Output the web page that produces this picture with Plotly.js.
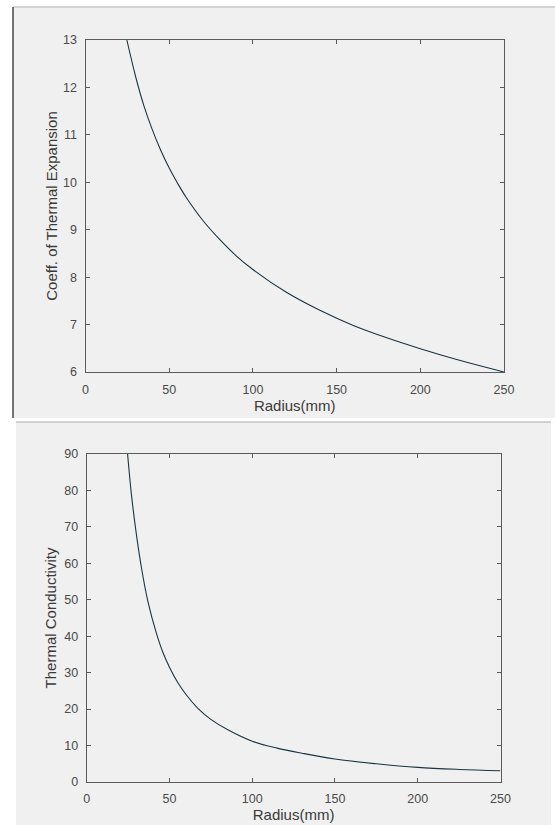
<!DOCTYPE html>
<html>
<head>
<meta charset="utf-8">
<script src="https://cdn.plot.ly/plotly-3.0.1.min.js"></script>
<style>
html,body{margin:0;padding:0;background:#ffffff;}
#chart{width:555px;height:825px;}
</style>
</head>
<body>
<div id="chart"></div>
<script>
// Top chart: Coefficient of thermal expansion vs radius
const radiusCTE = [24.7, 30, 35, 40, 45, 50, 55, 60, 70, 80, 90, 100, 120, 140, 160, 180, 200, 225, 250];
const valuesCTE = [13.0, 12.22, 11.6, 11.1, 10.67, 10.3, 9.98, 9.69, 9.2, 8.8, 8.45, 8.16, 7.68, 7.3, 6.98, 6.72, 6.49, 6.23, 6.0];

// Bottom chart: Thermal conductivity vs radius
const radiusK = [24.7, 27, 30, 33, 37, 42, 46, 50, 55, 60, 67, 75, 85, 100, 115, 130, 150, 175, 200, 225, 250];
const valuesK = [90, 79, 68, 59, 49.5, 41, 35.6, 31.5, 27.3, 24, 20.3, 17.2, 14.4, 11.2, 9.3, 7.9, 6.3, 5.0, 4.0, 3.45, 3.1];

const xTicks = [0, 50, 100, 150, 200, 250];
const yTicksCTE = [6, 7, 8, 9, 10, 11, 12, 13];
const yTicksK = [0, 10, 20, 30, 40, 50, 60, 70, 80, 90];

const W = 555, H = 825;
const px = v => v / W;
const py = v => 1 - v / H;

const lineColor = '#1b3442';
const axisColor = '#5a5a5a';
const tickFont = {family: 'Liberation Sans, Arial, sans-serif', size: 12.5, color: '#4a4a4a'};
const titleFont = {family: 'Liberation Sans, Arial, sans-serif', size: 15, color: '#3a3a3a'};

function axisBase(extra) {
  return Object.assign({
    showline: true, mirror: 'ticks', linecolor: axisColor, linewidth: 1,
    ticks: 'inside', ticklen: 4, tickwidth: 1, tickcolor: axisColor,
    showgrid: false, zeroline: false, tickfont: tickFont, fixedrange: true
  }, extra);
}

const traces = [
  {x: radiusCTE, y: valuesCTE, type: 'scatter', mode: 'lines',
   line: {color: lineColor, width: 1.1, shape: 'spline', smoothing: 1}, xaxis: 'x', yaxis: 'y', hoverinfo: 'skip'},
  {x: radiusK, y: valuesK, type: 'scatter', mode: 'lines',
   line: {color: lineColor, width: 1.1, shape: 'spline', smoothing: 1}, xaxis: 'x2', yaxis: 'y2', hoverinfo: 'skip'}
];

const layout = {
  width: W, height: H,
  margin: {l: 0, r: 0, t: 0, b: 0, pad: 0},
  paper_bgcolor: '#ffffff', plot_bgcolor: '#ffffff',
  showlegend: false,
  xaxis: axisBase({domain: [px(85.5), px(504)], range: [0, 250], tickvals: xTicks, anchor: 'y',
    ticklabelstandoff: 6,
    title: {text: 'Radius(mm)', font: titleFont, standoff: 4}}),
  yaxis: axisBase({domain: [py(372), py(40)], range: [6, 13], tickvals: yTicksCTE, anchor: 'x',
    ticklabelstandoff: 5,
    title: {text: 'Coeff. of Thermal Expansion', font: titleFont, standoff: 1}}),
  xaxis2: axisBase({domain: [px(86.7), px(500.5)], range: [0, 250], tickvals: xTicks, anchor: 'y2',
    ticklabelstandoff: 5,
    title: {text: 'Radius(mm)', font: titleFont, standoff: 3}}),
  yaxis2: axisBase({domain: [py(782), py(454)], range: [0, 90], tickvals: yTicksK, anchor: 'x2',
    ticklabelstandoff: 5,
    title: {text: 'Thermal Conductivity', font: titleFont, standoff: 4}}),
  shapes: [
    // top figure window background
    {type: 'rect', xref: 'paper', yref: 'paper', x0: px(13), x1: px(555), y0: py(418), y1: py(7),
     fillcolor: '#f0f0f0', line: {width: 0}, layer: 'below'},
    {type: 'line', xref: 'paper', yref: 'paper', x0: px(13), x1: px(555), y0: py(7), y1: py(7),
     line: {color: '#c8c8c8', width: 1.5}, layer: 'below'},
    {type: 'line', xref: 'paper', yref: 'paper', x0: px(13), x1: px(13), y0: py(418), y1: py(7),
     line: {color: '#4a4a4a', width: 1.5}, layer: 'below'},
    // bottom figure window background
    {type: 'rect', xref: 'paper', yref: 'paper', x0: px(16), x1: px(551), y0: py(825), y1: py(422),
     fillcolor: '#f0f0f0', line: {width: 0}, layer: 'below'},
    {type: 'line', xref: 'paper', yref: 'paper', x0: px(16), x1: px(551), y0: py(422), y1: py(422),
     line: {color: '#c4c4c4', width: 1.5}, layer: 'below'}
  ]
};

Plotly.newPlot('chart', traces, layout, {staticPlot: true, displayModeBar: false});
</script>
</body>
</html>
